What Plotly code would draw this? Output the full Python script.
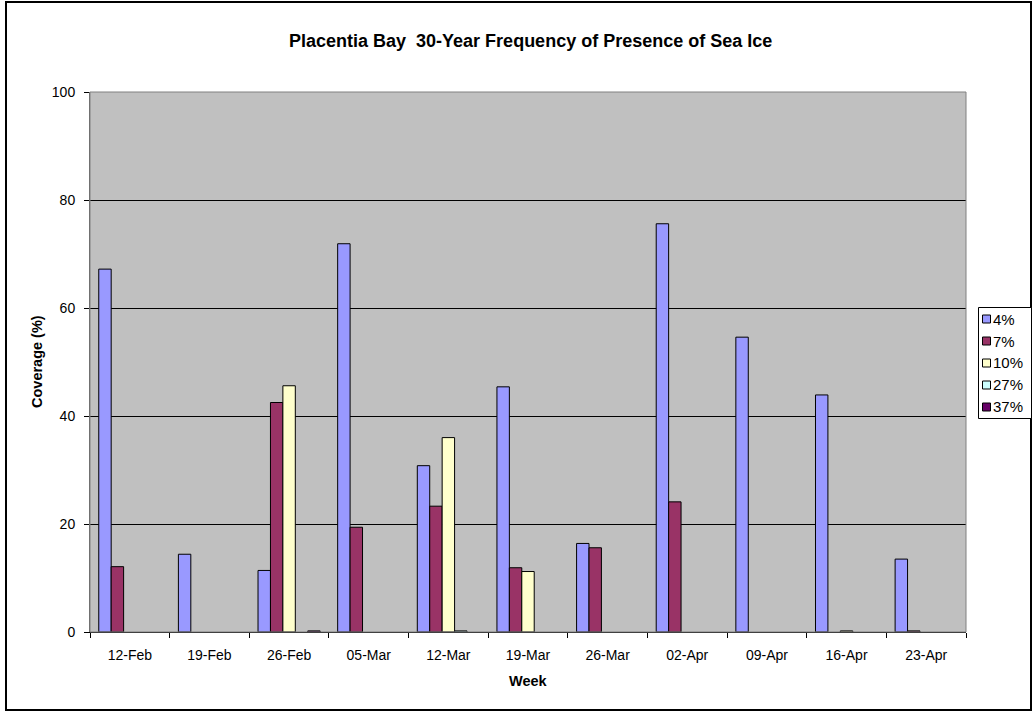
import plotly.graph_objects as go

weeks = ["12-Feb", "19-Feb", "26-Feb", "05-Mar", "12-Mar", "19-Mar",
         "26-Mar", "02-Apr", "09-Apr", "16-Apr", "23-Apr"]

# weekly coverage per concentration class (None = no ice recorded)
cov_4 = [67.2, 14.4, 11.4, 71.9, 30.8, 45.4, 16.4, 75.6, 54.6, 43.9, 13.5]
cov_7 = [12.1, None, 42.5, 19.4, 23.3, 11.9, 15.6, 24.1, None, None, 0.2]
cov_10 = [None, None, 45.6, None, 36.0, 11.2, None, None, None, 0.2, None]
cov_27 = [None, None, None, None, 0.2, None, None, None, None, None, None]
cov_37 = [None, None, 0.2, None, None, None, None, None, None, None, None]

series = [
    ("4%", cov_4, "#9999FF"),
    ("7%", cov_7, "#993366"),
    ("10%", cov_10, "#FFFFCC"),
    ("27%", cov_27, "#CCFFFF"),
    ("37%", cov_37, "#660066"),
]

FONT = "Liberation Sans, Arial, sans-serif"

fig = go.Figure()
for name, vals, color in series:
    fig.add_trace(go.Bar(
        name=name, x=weeks, y=vals,
        marker=dict(color=color, line=dict(color="black", width=1)),
    ))

# plot-area geometry in pixels
W, H = 1033, 712
L, R, T, B = 90, 966, 92, 632
pw, ph = R - L, B - T

def px_x(x):
    return (x - L) / pw

def px_y(y):
    return (B - y) / ph

shapes = [
    # plot-area frame
    dict(type="rect", xref="paper", yref="paper", x0=0, x1=1, y0=0, y1=1,
         line=dict(color="#808080", width=1), layer="above"),
    # outer chart frame
    dict(type="rect", xref="paper", yref="paper",
         x0=px_x(6), x1=px_x(1031), y0=px_y(2), y1=px_y(710),
         line=dict(color="black", width=2)),
    # legend box
    dict(type="rect", xref="paper", yref="paper",
         x0=px_x(978.5), x1=px_x(1031.5), y0=px_y(307.5), y1=px_y(418.5),
         line=dict(color="black", width=1), fillcolor="white"),
]

annotations = [
    dict(text="<b>Placentia Bay\u00a0 30-Year Frequency of Presence of Sea Ice</b>",
         xref="paper", yref="paper", x=px_x(530), y=px_y(41),
         xanchor="center", yanchor="middle", showarrow=False,
         font=dict(family=FONT, size=18)),
    dict(text="<b>Coverage (%)</b>",
         xref="paper", yref="paper", x=px_x(37), y=px_y(362),
         xanchor="center", yanchor="middle", textangle=-90, showarrow=False,
         font=dict(family=FONT, size=14.5)),
    dict(text="<b>Week</b>",
         xref="paper", yref="paper", x=px_x(528), y=px_y(681),
         xanchor="center", yanchor="middle", showarrow=False,
         font=dict(family=FONT, size=14.5)),
]

# legend entries: colour swatch plus label for each series
for i, (name, _, color) in enumerate(series):
    cy = 319 + 22 * i
    shapes.append(dict(type="rect", xref="paper", yref="paper",
                       x0=px_x(982.5), x1=px_x(990.5),
                       y0=px_y(cy - 4), y1=px_y(cy + 4),
                       line=dict(color="black", width=1), fillcolor=color))
    annotations.append(dict(text=name, xref="paper", yref="paper",
                            x=px_x(991), y=px_y(cy), xanchor="left",
                            yanchor="middle", showarrow=False,
                            font=dict(family=FONT, size=15)))

fig.update_layout(
    width=W, height=H,
    margin=dict(l=L, r=W - R, t=T, b=H - B, pad=0),
    paper_bgcolor="white",
    plot_bgcolor="#C0C0C0",
    barmode="group",
    bargap=0.22,
    bargroupgap=0,
    font=dict(family=FONT, size=14, color="black"),
    showlegend=False,
    xaxis=dict(
        showgrid=False,
        showline=True, linecolor="black", linewidth=1,
        ticks="outside", ticklen=5, tickcolor="black",
        tickson="boundaries",
        tickfont=dict(family=FONT, size=14),
        ticklabelstandoff=10,
    ),
    yaxis=dict(
        range=[0, 100],
        dtick=20,
        showgrid=True, gridcolor="black", gridwidth=1,
        showline=True, linecolor="#606060", linewidth=1,
        ticks="outside", ticklen=5, tickcolor="black",
        tickfont=dict(family=FONT, size=14),
        ticklabelstandoff=6,
        zeroline=False,
    ),
    shapes=shapes,
    annotations=annotations,
)

fig.write_html("out.html")
